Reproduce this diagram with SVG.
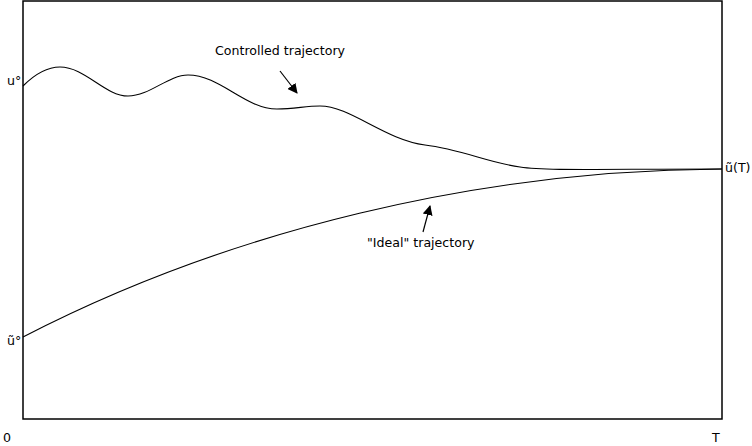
<svg xmlns="http://www.w3.org/2000/svg" width="752" height="446" viewBox="0 0 752 446">
<style>
text{font-family:"DejaVu Sans","Liberation Sans",sans-serif;font-size:12.6px;fill:#000}
.curve{fill:none;stroke:#000;stroke-width:1.1}
.arr{fill:none;stroke:#000;stroke-width:1.2;marker-end:url(#ah)}
</style>
<defs>
<marker id="ah" viewBox="0 0 10 10" refX="9" refY="5" markerWidth="10" markerHeight="10" markerUnits="userSpaceOnUse" orient="auto">
<path d="M0,0 L10,5 L0,10 z" fill="#000"/>
</marker>
</defs>
<rect x="23" y="1" width="699" height="418" fill="#fff" stroke="#000" stroke-width="1.5"/>
<g id="labels">
<text x="7" y="85">u°</text>
<text x="7" y="345">ũ°</text>
<text x="725" y="172">ũ(T)</text>
<text x="3" y="442">0</text>
<text x="712" y="442">T</text>
</g>
<g id="controlled">
<path class="curve" d="M23,86 C35,74 48,67 60,67 C85,67 105,96 128,96 C150,96 168,75 188,75 C220,75 245,109 277,109 C295,109 305,106 320,106 C350,106 385,140 425,145 C460,149 490,163 520,167 C545,171 600,169 722,169"/>
<text x="215" y="55">Controlled trajectory</text>
</g>
<g id="ideal">
<path class="curve" d="M23,337 C230,230 480,170 722,169"/>
<text x="367" y="247">"Ideal" trajectory</text>
</g>
<g id="connectors">
<line class="arr" x1="280" y1="71" x2="297" y2="93"/>
<line class="arr" x1="423" y1="232" x2="430" y2="206"/>
</g>
</svg>
